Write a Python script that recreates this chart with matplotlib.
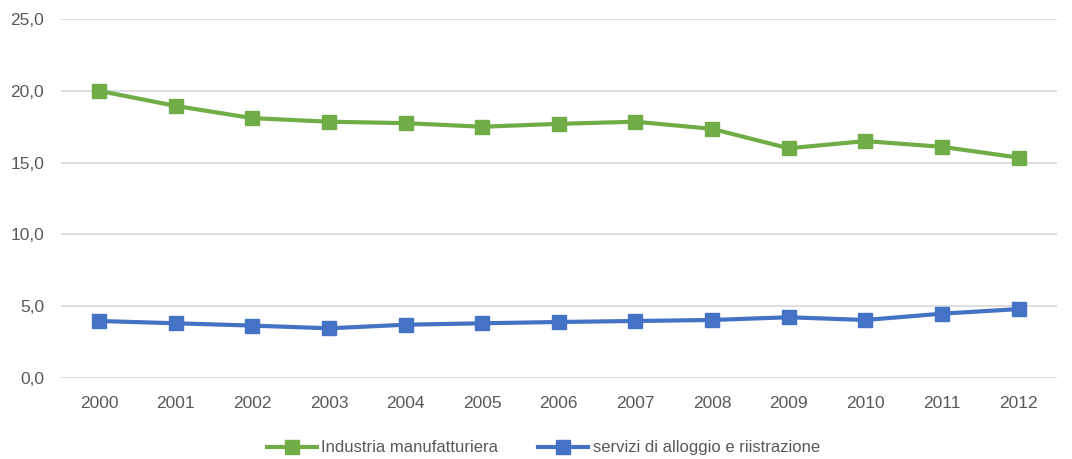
import matplotlib
matplotlib.use("Agg")
import matplotlib.pyplot as plt
from matplotlib import font_manager

years = ["2000", "2001", "2002", "2003", "2004", "2005", "2006",
         "2007", "2008", "2009", "2010", "2011", "2012"]
industria = [20.0, 18.95, 18.1, 17.85, 17.75, 17.5, 17.7,
             17.85, 17.35, 16.0, 16.5, 16.1, 15.35]
servizi = [3.97, 3.81, 3.65, 3.46, 3.71, 3.81, 3.9,
           3.97, 4.04, 4.23, 4.04, 4.48, 4.8]
yticks = [0, 5, 10, 15, 20, 25]
ytick_labels = ["0,0", "5,0", "10,0", "15,0", "20,0", "25,0"]
series_names = ["Industria manufatturiera", "servizi di alloggio e riistrazione"]

names = {f.name for f in font_manager.fontManager.ttflist}
fam = "Liberation Sans Narrow" if "Liberation Sans Narrow" in names else "Liberation Sans"
plt.rcParams["font.family"] = [fam, "DejaVu Sans"]

fig = plt.figure(figsize=(10.72, 4.59), dpi=100)
ax = fig.add_axes([0.0566, 0.1765, 0.9294, 0.782])
x = list(range(len(years)))
ax.plot(x, industria, color="#70AD47", lw=3.0, marker="s", ms=10,
        label=series_names[0], solid_joinstyle="round")
ax.plot(x, servizi, color="#4472C4", lw=3.0, marker="s", ms=10,
        label=series_names[1], solid_joinstyle="round")

ax.set_xlim(-0.5, len(years) - 0.5)
ax.set_ylim(0, 25)
ax.set_yticks(yticks)
ax.set_yticklabels(ytick_labels)
ax.set_xticks(x)
ax.set_xticklabels(years)
ax.grid(axis="y", color="#D9D9D9", lw=1.2)
ax.set_axisbelow(True)
for s in ax.spines.values():
    s.set_visible(False)
ax.tick_params(axis="both", length=0, labelsize=12.5, colors="#595959")
ax.tick_params(axis="y", pad=12)
ax.tick_params(axis="x", pad=13)

leg = fig.legend(loc="center", bbox_to_anchor=(0.507, 0.024), ncol=2,
                 frameon=False, fontsize=12, handlelength=3.0,
                 columnspacing=2.4, handletextpad=0.25)
for t in leg.get_texts():
    t.set_color("#595959")

fig.savefig("out.png", dpi=100)
